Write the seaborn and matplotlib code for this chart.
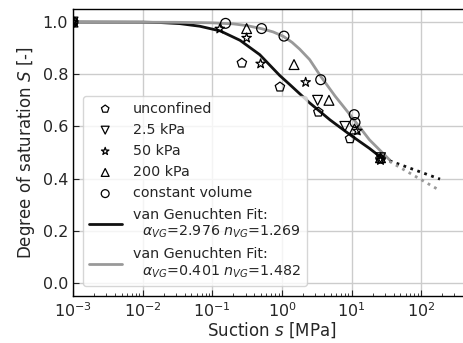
import numpy as np
import pandas as pd
import matplotlib
matplotlib.use("Agg")
import matplotlib.pyplot as plt
import seaborn as sns

# measured points (suction s in MPa, degree of saturation S)
unconf_s = [1e-3, 0.266, 0.935, 3.33, 9.5, 26]
unconf_S = [1.0, 0.843, 0.751, 0.655, 0.553, 0.475]
kpa25_s = [1e-3, 3.25, 8.0, 26]
kpa25_S = [1.0, 0.700, 0.600, 0.48]
kpa50_s = [1e-3, 0.128, 0.311, 0.494, 2.19, 12.1, 26]
kpa50_S = [1.0, 0.974, 0.939, 0.840, 0.769, 0.583, 0.47]
kpa200_s = [1e-3, 0.311, 1.49, 4.73, 11.0, 26]
kpa200_S = [1.0, 0.975, 0.837, 0.700, 0.590, 0.48]
cv_s = [1e-3, 0.155, 0.51, 1.07, 3.6, 10.9, 11.2]
cv_S = [1.0, 0.995, 0.975, 0.946, 0.779, 0.645, 0.615]

# fitted curves
fit1_s = [0.001, 0.01, 0.018, 0.034, 0.066, 0.13, 0.25, 0.48, 0.93, 1.3, 2.5, 4.9, 9.5, 18, 28]
fit1_S = [1.0, 0.9995, 0.998, 0.994, 0.984, 0.966, 0.930, 0.875, 0.795, 0.760, 0.690, 0.625, 0.568, 0.516, 0.476]
fit2_s = [0.001, 0.03, 0.1, 0.2, 0.32, 0.52, 0.75, 1.05, 1.4, 1.8, 2.5, 3.6, 5.8, 10.5, 18, 35]
fit2_S = [1.0, 0.999, 0.997, 0.993, 0.986, 0.974, 0.962, 0.945, 0.922, 0.896, 0.856, 0.792, 0.716, 0.630, 0.549, 0.472]
ext1_s = [28, 186]
ext1_S = [0.478, 0.398]
ext2_s = [35, 170]
ext2_S = [0.466, 0.360]

sns.set_style("whitegrid", {
    "axes.edgecolor": "black",
    "grid.color": "#cccccc",
    "xtick.direction": "in",
    "ytick.direction": "in",
    "xtick.bottom": True,
    "ytick.left": True,
})
plt.rcParams["font.family"] = ["DejaVu Sans"]
plt.rcParams["font.size"] = 10
plt.rcParams["xtick.major.size"] = 4
plt.rcParams["xtick.minor.size"] = 2.5
plt.rcParams["ytick.major.size"] = 4
plt.rcParams["xtick.minor.visible"] = True
plt.rcParams["xtick.labelsize"] = 11.5
plt.rcParams["ytick.labelsize"] = 11.5
plt.rcParams["axes.labelsize"] = 12

fig = plt.figure(figsize=(4.64, 3.43), dpi=100)
# axes run past the right edge of the figure, as in the original crop
ax = fig.add_axes([73 / 464, 47 / 343, 397 / 464, 287 / 343])

series = [
    (unconf_s, unconf_S, "p", "unconfined"),
    (kpa25_s, kpa25_S, "v", "2.5 kPa"),
    (kpa50_s, kpa50_S, "*", "50 kPa"),
    (kpa200_s, kpa200_S, "^", "200 kPa"),
    (cv_s, cv_S, "o", "constant volume"),
]
for s, S, m, lab in series:
    sns.scatterplot(x=s, y=S, marker=m, s=50, facecolor="none",
                    edgecolor="black", linewidth=0.9, label=lab, ax=ax, zorder=3)

sns.lineplot(x=fit1_s, y=fit1_S, color="#111111", lw=2, sort=False, ax=ax,
             label="van Genuchten Fit:\n  $\\alpha_{VG}$=2.976 $n_{VG}$=1.269")
sns.lineplot(x=fit2_s, y=fit2_S, color="#999999", lw=2, sort=False, ax=ax,
             label="van Genuchten Fit:\n  $\\alpha_{VG}$=0.401 $n_{VG}$=1.482")
sns.lineplot(x=ext1_s, y=ext1_S, color="#111111", lw=2, ls=":", ax=ax)
sns.lineplot(x=ext2_s, y=ext2_S, color="#999999", lw=2, ls=":", ax=ax)

ax.set_xscale("log")
ax.set_xlim(1e-3, 10 ** 2.7)
ax.set_ylim(-0.05, 1.05)
ax.set_yticks([0.0, 0.2, 0.4, 0.6, 0.8, 1.0])
ax.set_xlabel("Suction $s$ [MPa]", labelpad=0.5)
ax.set_ylabel("Degree of saturation $S$ [-]")
ax.grid(True, which="major", color="#cccccc", lw=1)
ax.grid(False, which="minor")
for sp in ax.spines.values():
    sp.set_color("black")
    sp.set_linewidth(1.0)

ax.legend(loc="lower left", handlelength=2.3, markerscale=0.8, fontsize=10.3,
          labelspacing=0.5, borderaxespad=0.7)

fig.savefig("out.png", dpi=100)
